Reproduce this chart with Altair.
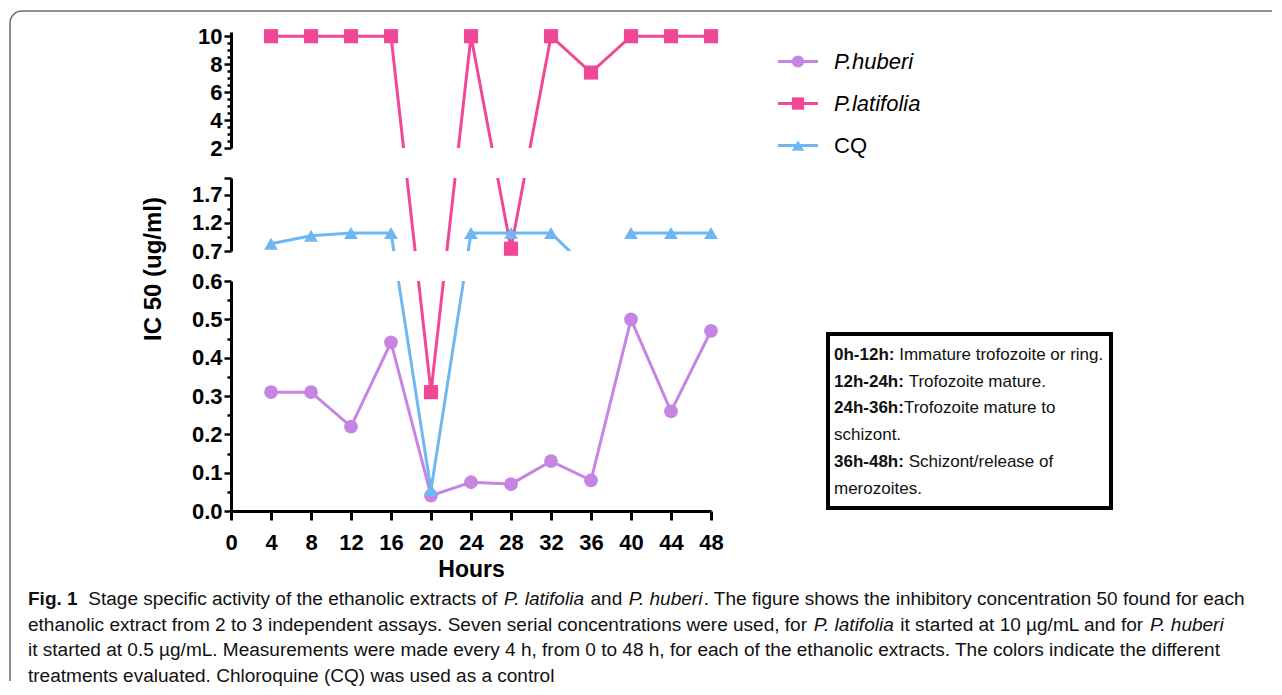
import altair as alt
import pandas as pd
import numpy as np

# ---------------- data ----------------
HOURS = [4, 8, 12, 16, 20, 24, 28, 32, 36, 40, 44, 48]
HUBERI = [0.31, 0.31, 0.22, 0.44, 0.04, 0.075, 0.07, 0.13, 0.08, 0.50, 0.26, 0.47]
LATIFOLIA = [10, 10, 10, 10, 0.31, 10, 0.74, 10, 7.4, 10, 10, 10]
CQ = [0.83, 0.97, 1.02, 1.02, 0.055, 1.02, 1.02, 1.02, 0.63, 1.02, 1.02, 1.02]
CQ_RUN = [1, 1, 1, 1, 1, 1, 1, 1, 1, 2, 2, 2]   # CQ trace is interrupted between 36 h and 40 h
SERIES = ["P.huberi", "P.latifolia", "CQ"]
COLORS = ["#C685E2", "#F04896", "#6FB7F2"]
SHAPES = ["circle", "square", "triangle-up"]
X_TICKS = list(range(0, 49, 4))

Y_TITLE = "IC 50 (ug/ml)"
X_TITLE = "Hours"

BOX_LINES = [
    [("0h-12h:", "bold"), (" Immature trofozoite or ring.", "normal")],
    [("12h-24h:", "bold"), (" Trofozoite mature.", "normal")],
    [("24h-36h:", "bold"), ("Trofozoite mature to", "normal")],
    [("schizont.", "normal")],
    [("36h-48h:", "bold"), (" Schizont/release of", "normal")],
    [("merozoites.", "normal")],
]
CAPTION = [
    [("Fig. 1", "bold"), ("  Stage specific activity of the ethanolic extracts of ", "normal"),
     ("P. latifolia", "italic"), (" and ", "normal"), ("P. huberi", "italic"),
     (". The figure shows the inhibitory concentration 50 found for each", "normal")],
    [("ethanolic extract from 2 to 3 independent assays. Seven serial concentrations were used, for ", "normal"),
     ("P. latifolia", "italic"), (" it started at 10 µg/mL and for ", "normal"), ("P. huberi", "italic")],
    [("it started at 0.5 µg/mL. Measurements were made every 4 h, from 0 to 48 h, for each of the ethanolic extracts. The colors indicate the different", "normal")],
    [("treatments evaluated. Chloroquine (CQ) was used as a control", "normal")],
]

FONT = "Liberation Sans"

# ---------------- broken-axis geometry ----------------
W = 480
GAP = 30
PANELS = {"top": (2.0, 10.3, 116), "mid": (0.7, 2.0, 73), "bot": (0.0, 0.6, 230)}
T0 = {"bot": 0.0, "mid": 230.0 + GAP, "top": 230.0 + GAP + 73 + GAP}


def to_t(v):
    lo, hi, h = PANELS["bot"]
    if v <= hi:
        return (v - lo) / (hi - lo) * h
    if v < PANELS["mid"][0]:
        return h + (v - hi) / (PANELS["mid"][0] - hi) * GAP
    lo, hi, h = PANELS["mid"]
    if v < hi:
        return T0["mid"] + (v - lo) / (hi - lo) * h
    lo, hi, h = PANELS["top"]
    return T0["top"] + (v - lo) / (hi - lo) * h


def band(v):
    if v >= PANELS["top"][0]:
        return "top"
    if v >= PANELS["mid"][0]:
        return "mid"
    if v <= PANELS["bot"][1]:
        return "bot"
    return "gap"


rows = []
for name, vals, runs in [("P.huberi", HUBERI, [1] * 12), ("P.latifolia", LATIFOLIA, [1] * 12), ("CQ", CQ, CQ_RUN)]:
    for h, v, r in zip(HOURS, vals, runs):
        t = to_t(v)
        row = dict(series=name, hours=h, value=v, run=r, band=band(v))
        for p, (lo, hi, ph) in PANELS.items():
            row["y_" + p] = lo + (t - T0[p]) * (hi - lo) / ph
        rows.append(row)
df = pd.DataFrame(rows)

# ---------------- text metrics (Arial / Liberation Sans widths) ----------------
_CH = " !\"#$%&'()*+,-./0123456789:;<=>?@ABCDEFGHIJKLMNOPQRSTUVWXYZ[\\]^_`abcdefghijklmnopqrstuvwxyz{|}~"
_REG = ([278, 278, 355, 556, 556, 889, 667, 191, 333, 333, 389, 584, 278, 333, 278, 278] + [556] * 10 +
        [278, 278, 584, 584, 584, 556, 1015,
         667, 667, 722, 722, 667, 611, 778, 722, 278, 500, 667, 556, 833, 722, 778, 667, 778, 722, 667, 611, 722, 667, 944, 667, 667, 611,
         278, 278, 278, 469, 556, 333,
         556, 556, 500, 556, 556, 278, 556, 556, 222, 222, 500, 222, 833, 556, 556, 556, 556, 333, 500, 278, 556, 500, 722, 500, 500, 500,
         334, 260, 334, 584])
_BLD = ([278, 333, 474, 556, 556, 889, 722, 238, 333, 333, 389, 584, 278, 333, 278, 278] + [556] * 10 +
        [333, 333, 584, 584, 584, 611, 975,
         722, 722, 722, 722, 667, 611, 778, 722, 278, 556, 722, 611, 833, 722, 778, 667, 778, 722, 667, 611, 722, 667, 944, 667, 667, 611,
         333, 278, 333, 584, 556, 333,
         556, 611, 556, 611, 556, 333, 611, 611, 278, 278, 556, 278, 889, 611, 611, 611, 611, 389, 556, 333, 611, 556, 778, 556, 556, 500,
         389, 280, 389, 584])
REG_W = dict(zip(_CH, _REG)); REG_W["µ"] = 556
BLD_W = dict(zip(_CH, _BLD)); BLD_W["µ"] = 611


def em(s, style):
    tab = BLD_W if style == "bold" else REG_W
    return sum(tab.get(c, 556) for c in s) / 1000.0


# page -> bottom-panel coordinates (bottom panel origin sits at page (231, 281))
OX, OY = 231, 281


def px(x):
    return x - OX


def py(y):
    return y - OY


def lay_out(lines, x0, y0, dy, fs):
    """Place text runs one after the other; italic runs are centred in their slot."""
    out = []
    for i, segs in enumerate(lines):
        x = x0
        for text, style in segs:
            lead = len(text) - len(text.lstrip(" "))
            body = text.strip(" ")
            if body:
                x_start = x + em(" " * lead, style) * fs
                if style == "italic":
                    x_start += em(body, style) * fs / 2.0
                out.append(dict(text=body, x=x_start, y=y0 + i * dy, style=style, fs=fs))
            x += em(text, style) * fs
    return out


cap_fs = (1245 - 28) / sum(em(t, s) for t, s in CAPTION[0])
notes = pd.DataFrame(
    lay_out(BOX_LINES, px(834), py(355), 26.7, 17) +
    lay_out(CAPTION, px(28), py(599), 25.5, cap_fs)
)
legend_df = pd.DataFrame({"series": SERIES, "ly": [py(61.5), py(103.5), py(145.5)]})
one = pd.DataFrame({"k": [0]})

# ---------------- encodings ----------------
color_enc = alt.Color("series:N", scale=alt.Scale(domain=SERIES, range=COLORS), legend=None)
shape_enc = alt.Shape("series:N", scale=alt.Scale(domain=SERIES, range=SHAPES), legend=None)
SIZES = {"P.huberi": 190, "P.latifolia": 200, "CQ": 190}

AX = dict(domainColor="black", domainWidth=3, tickColor="black", tickWidth=2.5, labelColor="black",
          labelFont=FONT, labelFontWeight="bold", labelFontSize=22, labelPadding=2, grid=False,
          title=None, labelFlush=False, labelOverlap=False)

axis_top = alt.Axis(values=[2 + 0.5 * i for i in range(17)], format="~g",
                    labelExpr="datum.value % 2 == 0 ? datum.label : ''",
                    tickSize={"condition": {"test": "datum.value % 2 == 0", "value": 7}, "value": 4}, **AX)
MAJ_MID = "abs(datum.value-0.7)<1e-6 || abs(datum.value-1.2)<1e-6 || abs(datum.value-1.7)<1e-6"
axis_mid = alt.Axis(values=[0.7, 0.95, 1.2, 1.45, 1.7, 2.0], format="~g",
                    labelExpr="(" + MAJ_MID + ") ? datum.label : ''",
                    tickSize={"condition": {"test": "(" + MAJ_MID + ") || datum.value > 1.99", "value": 7}, "value": 4}, **AX)
MAJ_BOT = "abs(datum.value*10 - round(datum.value*10)) < 1e-6"
axis_bot = alt.Axis(values=[round(0.05 * i, 2) for i in range(13)], format=".1f",
                    labelExpr="(" + MAJ_BOT + ") ? datum.label : ''",
                    tickSize={"condition": {"test": MAJ_BOT, "value": 7}, "value": 4}, **AX)
axis_x = alt.Axis(values=X_TICKS, title=X_TITLE, titleFont=FONT, titleFontSize=23, titleFontWeight="bold",
                  titleColor="black", titlePadding=5, labelFontSize=22, labelFontWeight="bold", labelFont=FONT,
                  labelColor="black", labelPadding=12, tickSize=9, tickWidth=3, domainWidth=3,
                  domainColor="black", tickColor="black", grid=False, labelFlush=False, labelOverlap=False)


def panel(name, y_axis, x_axis=None, extra=()):
    lo, hi, h = PANELS[name]
    yenc = alt.Y("y_%s:Q" % name, scale=alt.Scale(domain=[lo, hi], nice=False, zero=False), axis=y_axis)
    xenc = alt.X("hours:Q", scale=alt.Scale(domain=[0, 48], nice=False, zero=False), axis=x_axis)
    layers = []
    for s in SERIES:
        base = alt.Chart(df).transform_filter(alt.datum.series == s)
        layers.append(base.mark_line(clip=True, strokeWidth=3).encode(
            x=xenc, y=yenc, color=color_enc, detail="run:N"))
        layers.append(base.transform_filter(alt.datum.band == name).mark_point(
            filled=True, opacity=1, size=SIZES[s]).encode(x=xenc, y=yenc, color=color_enc, shape=shape_enc))
    return alt.layer(*layers, *extra).properties(width=W, height=h)


def text_layer(style):
    return alt.Chart(notes).transform_filter(alt.datum.style == style).mark_text(
        align="center" if style == "italic" else "left", baseline="middle", font=FONT, color="#111111",
        fontWeight="bold" if style == "bold" else "normal",
        fontStyle="italic" if style == "italic" else "normal",
    ).encode(x=alt.X("x:Q", scale=None, axis=None), y=alt.Y("y:Q", scale=None, axis=None),
             text="text:N", size=alt.Size("fs:Q", scale=None, legend=None))


BORDER = "#6b6b6b"
border_left = alt.Chart(one).mark_rule(color=BORDER, strokeWidth=1.5).encode(
    x=alt.value(px(10)), y=alt.value(py(23)), y2=alt.value(py(681)))
border_top = alt.Chart(one).mark_rule(color=BORDER, strokeWidth=1.5).encode(
    x=alt.value(px(22)), x2=alt.value(px(1272)), y=alt.value(py(11)))
border_corner = alt.Chart(one).mark_arc(color=BORDER, theta=1.5 * np.pi, theta2=2 * np.pi,
                                        radius=12.75, radius2=11.25).encode(
    x=alt.value(px(22)), y=alt.value(py(23)))

box = alt.Chart(one).mark_rect(fill="white", stroke="black", strokeWidth=4).encode(
    x=alt.value(px(828)), x2=alt.value(px(1111)), y=alt.value(py(334)), y2=alt.value(py(508)))

y_title = alt.Chart(one).mark_text(angle=270, font=FONT, fontSize=24, fontWeight="bold", color="black",
                                   align="center", baseline="middle").encode(
    x=alt.value(px(154)), y=alt.value(py(269)), text=alt.value(Y_TITLE))

leg_y = alt.Y("ly:Q", scale=None, axis=None)
leg_line = alt.Chart(legend_df).mark_rule(strokeWidth=3).encode(
    x=alt.value(px(778)), x2=alt.value(px(818)), y=leg_y, color=color_enc)
leg_pts = alt.Chart(legend_df).mark_point(filled=True, opacity=1, size=150).encode(
    x=alt.value(px(798)), y=leg_y, color=color_enc, shape=shape_enc)
leg_it = alt.Chart(legend_df).transform_filter(alt.datum.series != "CQ").mark_text(
    align="left", baseline="middle", font=FONT, fontSize=22, fontStyle="italic", color="black").encode(
    x=alt.value(px(834)), y=leg_y, text="series:N")
leg_rg = alt.Chart(legend_df).transform_filter(alt.datum.series == "CQ").mark_text(
    align="left", baseline="middle", font=FONT, fontSize=22, color="black").encode(
    x=alt.value(px(834)), y=leg_y, text="series:N")

extras = [border_left, border_top, border_corner, box, y_title,
          leg_line, leg_pts, leg_it, leg_rg,
          text_layer("normal"), text_layer("bold"), text_layer("italic")]

top = panel("top", axis_top)
mid = panel("mid", axis_mid)
bot = panel("bot", axis_bot, x_axis=axis_x, extra=extras)

chart = alt.vconcat(top, mid, bot, spacing=GAP, bounds="flush").properties(
    padding={"left": 1, "top": 2, "right": 0, "bottom": 0}
).configure(font=FONT, background="white").configure_view(stroke=None)

chart.save("out.html", embed_options={"renderer": "svg", "actions": False})
